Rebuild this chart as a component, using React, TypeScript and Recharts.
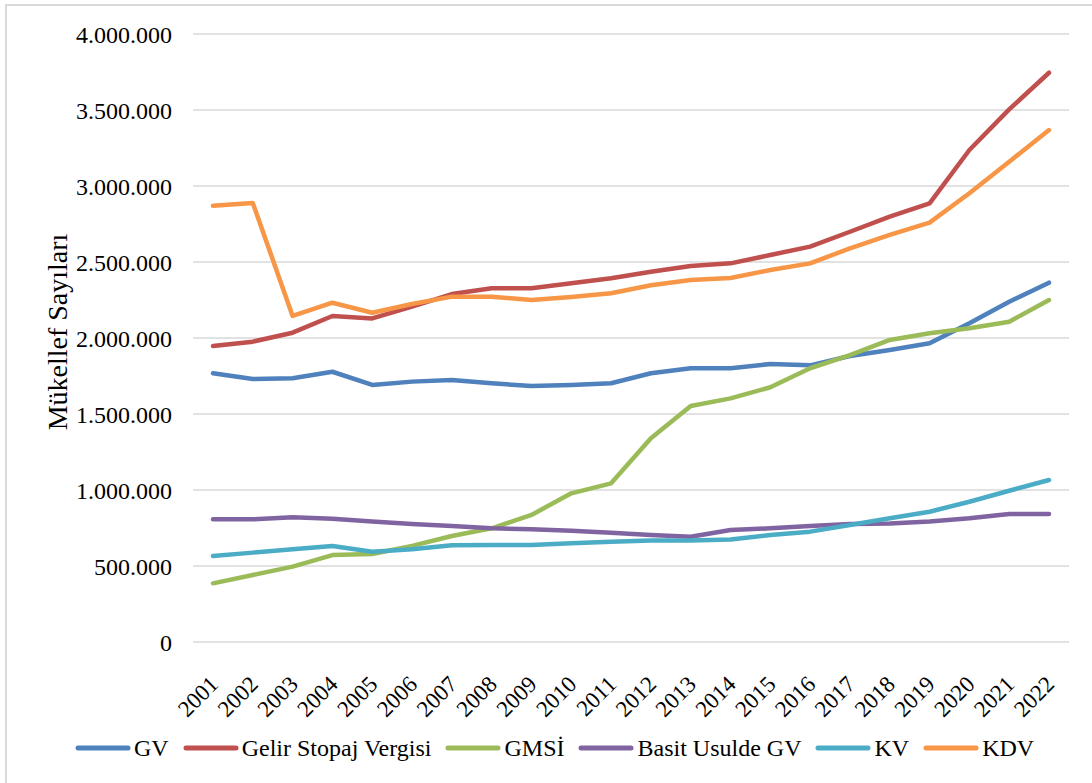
import React from 'react';
import { LineChart, Line, XAxis, YAxis, CartesianGrid } from 'recharts';

const years = ['2001','2002','2003','2004','2005','2006','2007','2008','2009','2010','2011','2012','2013','2014','2015','2016','2017','2018','2019','2020','2021','2022'];

const gv = [1768000,1730000,1735000,1778000,1691000,1713000,1724000,1702000,1684000,1691000,1702000,1768000,1801000,1801000,1829000,1820000,1882000,1921000,1965000,2097000,2239000,2364000];
const gelirStopaj = [1947000,1976000,2035000,2145000,2129000,2206000,2289000,2327000,2327000,2360000,2393000,2436000,2474000,2491000,2546000,2601000,2699000,2798000,2886000,3237000,3504000,3745000];
const gmsi = [386000,441000,496000,572000,579000,632000,697000,748000,836000,978000,1044000,1340000,1553000,1603000,1676000,1801000,1888000,1987000,2031000,2064000,2107000,2250000];
const basit = [807000,807000,820000,811000,792000,776000,763000,748000,741000,732000,719000,704000,693000,737000,748000,763000,776000,780000,792000,814000,842000,842000];
const kv = [566000,588000,610000,632000,594000,610000,636000,638000,638000,649000,660000,667000,667000,675000,704000,726000,770000,814000,857000,923000,995000,1066000];
const kdv = [2870000,2888000,2145000,2232000,2166000,2224000,2272000,2272000,2250000,2270000,2294000,2347000,2382000,2395000,2447000,2491000,2590000,2678000,2759000,2952000,3160000,3368000];

const yTicks = [0, 500000, 1000000, 1500000, 2000000, 2500000, 3000000, 3500000, 4000000];

const seriesKeys = ['gv', 'gelirStopaj', 'gmsi', 'basit', 'kv', 'kdv'];
const seriesNames = ['GV', 'Gelir Stopaj Vergisi', 'GMSİ', 'Basit Usulde GV', 'KV', 'KDV'];
const seriesColors = ['#4F81BD', '#C0504D', '#9BBB59', '#8064A2', '#4BACC6', '#F79646'];

const data = years.map((year, i) => ({
  year,
  gv: gv[i],
  gelirStopaj: gelirStopaj[i],
  gmsi: gmsi[i],
  basit: basit[i],
  kv: kv[i],
  kdv: kdv[i],
}));

const FONT = '"Liberation Serif", "Times New Roman", serif';

const fmt = (n: number) => n.toString().replace(/\B(?=(\d{3})+(?!\d))/g, '.');

const XTick = (props: any) => {
  const { x, y, payload } = props;
  const ax = x + 1;
  const ay = y + 30;
  return (
    <text
      x={ax}
      y={ay}
      dy="0.35em"
      transform={`rotate(-45 ${ax} ${ay})`}
      textAnchor="end"
      fontFamily={FONT}
      fontSize={23}
      fill="#000"
    >
      {payload.value}
    </text>
  );
};

const YLabel = () => (
  <text
    x={57}
    y={332}
    transform="rotate(-90 57 332)"
    textAnchor="middle"
    dominantBaseline="central"
    fontFamily={FONT}
    fontSize={28}
    fill="#000"
  >
    Mükellef Sayıları
  </text>
);

export default function App() {
  return (
    <div style={{ position: 'absolute', left: 0, top: 0, width: 1092, height: 783, background: '#fff', overflow: 'hidden' }}>
      <div
        style={{
          position: 'absolute',
          left: 5,
          top: 4,
          right: 0,
          bottom: 0,
          borderLeft: '2px solid #d9d9d9',
          borderTop: '2px solid #d9d9d9',
        }}
      />
      <div style={{ position: 'absolute', left: 0, top: 0 }}>
        <LineChart width={1092} height={783} data={data} margin={{ top: 34, right: 23, bottom: 0, left: 0 }}>
          <CartesianGrid vertical={false} stroke="#d9d9d9" strokeWidth={1.5} />
          <XAxis
            dataKey="year"
            height={141}
            padding={{ left: 20, right: 20 }}
            axisLine={false}
            tickLine={false}
            interval={0}
            tick={<XTick />}
          />
          <YAxis
            width={193}
            domain={[0, 4000000]}
            ticks={yTicks}
            tickFormatter={fmt}
            axisLine={false}
            tickLine={false}
            tickSize={0}
            tickMargin={21}
            tick={{ fontFamily: FONT, fontSize: 24, fill: '#000' }}
            label={<YLabel />}
          />
          {seriesKeys.map((k, i) => (
            <Line
              key={k}
              type="linear"
              dataKey={k}
              name={seriesNames[i]}
              stroke={seriesColors[i]}
              strokeWidth={4.5}
              strokeLinecap="round"
              strokeLinejoin="round"
              dot={false}
              activeDot={false}
              isAnimationActive={false}
            />
          ))}
        </LineChart>
      </div>
      <div
        style={{
          position: 'absolute',
          left: 75,
          top: 736,
          height: 24,
          display: 'flex',
          alignItems: 'center',
          fontFamily: FONT,
          fontSize: 24,
          color: '#000',
          whiteSpace: 'nowrap',
        }}
      >
        {seriesNames.map((n, i) => (
          <div key={n} style={{ display: 'flex', alignItems: 'center', marginRight: 14 }}>
            <svg width={56} height={8} style={{ marginRight: 3 }}>
              <line x1={3} y1={4} x2={53} y2={4} stroke={seriesColors[i]} strokeWidth={5} strokeLinecap="round" />
            </svg>
            <span style={{ lineHeight: '24px' }}>{n}</span>
          </div>
        ))}
      </div>
    </div>
  );
}
